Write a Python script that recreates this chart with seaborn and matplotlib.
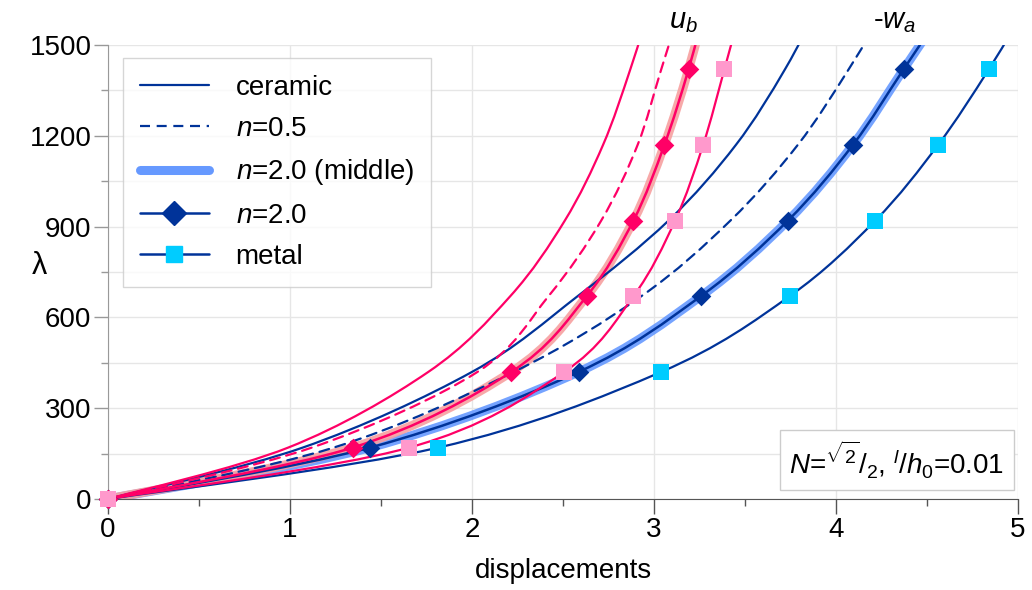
import matplotlib
matplotlib.use("Agg")
import matplotlib.pyplot as plt
from matplotlib.lines import Line2D
from matplotlib.path import Path
from matplotlib.patches import PathPatch
import seaborn as sns

# load levels of the data points (the last one lies above the plot and is clipped)
lam_pts = [0, 170, 420, 670, 920, 1170, 1420, 1670]

# u_b displacements (pink group)
ub_ceramic = [0, 0.99, 1.76, 2.21, 2.51, 2.72, 2.87, 3.00]
ub_n05 = [0, 1.12, 2.03, 2.42, 2.71, 2.91, 3.04, 3.17]
ub_n2 = [0, 1.345, 2.216, 2.63, 2.887, 3.057, 3.19, 3.30]
ub_metal = [0, 1.655, 2.507, 2.887, 3.116, 3.27, 3.387, 3.50]

# -w_a displacements (blue group)
wa_ceramic = [0, 1.07, 2.00, 2.58, 3.08, 3.45, 3.72, 3.94]
wa_n05 = [0, 1.24, 2.23, 2.93, 3.42, 3.79, 4.07, 4.32]
wa_n2 = [0, 1.44, 2.586, 3.257, 3.736, 4.093, 4.372, 4.65]
wa_metal = [0, 1.815, 3.04, 3.745, 4.216, 4.561, 4.84, 5.09]

BLUE = "#003399"
PINK = "#ff0066"
LBLUE = "#6699ff"
LPINK = "#f7a0a0"
SQ_PINK = "#ff99cc"
CYAN = "#00ccff"

sns.set_style("ticks")
plt.rcParams['font.family'] = ['Liberation Sans', 'DejaVu Sans']
plt.rcParams['mathtext.fontset'] = 'custom'
plt.rcParams['mathtext.rm'] = 'Liberation Sans'
plt.rcParams['mathtext.it'] = 'Liberation Sans:italic'
plt.rcParams['text.color'] = 'black'

fig = plt.figure(figsize=(10.32, 5.90), dpi=100)
ax = fig.add_axes([0.1047, 0.1542, 0.8817, 0.7695])


def curve(x, lam, color, lw, dashed=False, z=3, alpha=1.0):
    # smoothed line through the data points (spreadsheet style catmull-rom)
    pts = list(zip(x, lam))
    n = len(pts)
    verts = [pts[0]]
    codes = [Path.MOVETO]
    for i in range(n - 1):
        p0 = pts[max(i - 1, 0)]
        p1 = pts[i]
        p2 = pts[i + 1]
        p3 = pts[min(i + 2, n - 1)]
        c1 = (p1[0] + (p2[0] - p0[0]) / 6, p1[1] + (p2[1] - p0[1]) / 6)
        c2 = (p2[0] - (p3[0] - p1[0]) / 6, p2[1] - (p3[1] - p1[1]) / 6)
        verts += [c1, c2, p2]
        codes += [Path.CURVE4] * 3
    patch = PathPatch(Path(verts, codes), fill=False, edgecolor=color, lw=lw,
                      alpha=alpha, zorder=z, capstyle='round', joinstyle='round')
    if dashed:
        patch.set_linestyle((0, (4.5, 3)))
    ax.add_patch(patch)


def marks(x, lam, marker, color, size, z=6):
    sns.scatterplot(x=x[:7], y=lam[:7], ax=ax, marker=marker, s=size,
                    color=color, linewidth=0, zorder=z, clip_on=False)


# blue group
curve(wa_n2, lam_pts, LBLUE, 6.5, z=2, alpha=0.9)
curve(wa_ceramic, lam_pts, BLUE, 1.6)
curve(wa_n05, lam_pts, BLUE, 1.6, dashed=True)
curve(wa_n2, lam_pts, BLUE, 1.8)
curve(wa_metal, lam_pts, BLUE, 1.6)

# pink group
curve(ub_n2, lam_pts, LPINK, 6.5, z=2, alpha=0.9)
curve(ub_ceramic, lam_pts, PINK, 1.6)
curve(ub_n05, lam_pts, PINK, 1.6, dashed=True)
curve(ub_n2, lam_pts, PINK, 1.8)
curve(ub_metal, lam_pts, PINK, 1.6)

marks(wa_n2, lam_pts, 'D', BLUE, 100)
marks(wa_metal, lam_pts, 's', CYAN, 135)
marks(ub_n2, lam_pts, 'D', PINK, 100)
marks(ub_metal, lam_pts, 's', SQ_PINK, 135)

ax.set_xlim(0, 5)
ax.set_ylim(0, 1500)
ax.set_xticks([0, 1, 2, 3, 4, 5])
ax.set_xticks([0.5, 1.5, 2.5, 3.5, 4.5], minor=True)
ax.set_yticks([0, 300, 600, 900, 1200, 1500])
ax.set_yticks([150, 450, 750, 1050, 1350], minor=True)
ax.grid(axis='y', which='both', color='#e6e6e6', lw=1, zorder=0)
ax.grid(axis='x', which='major', color='#e6e6e6', lw=1, zorder=0)
ax.set_axisbelow(True)

sns.despine(ax=ax)
ax.spines['left'].set_color('#999999')
ax.spines['bottom'].set_color('#555555')
ax.tick_params(axis='x', which='major', length=11, width=1, color='#555555',
               labelsize=20, pad=2, labelcolor='black')
ax.tick_params(axis='x', which='minor', length=5, width=1, color='#555555')
ax.tick_params(axis='y', which='major', length=10, width=1, color='#999999',
               labelsize=20, pad=2, labelcolor='black')
ax.tick_params(axis='y', which='minor', length=5, width=1, color='#999999')

ax.set_xlabel("displacements", fontsize=20, labelpad=11, color='black')
ax.set_ylabel("λ", fontsize=22, rotation=0, color='black')
ax.yaxis.set_label_coords(-0.075, 0.48)

ax.text(3.16, 1578, r"$u_b$", fontsize=21, ha='center', va='center', clip_on=False)
ax.text(4.32, 1578, r"-$w_a$", fontsize=21, ha='center', va='center', clip_on=False)

ax.text(0.867, 0.086, r"$N$=$^{\sqrt{2}}$/$_2$, $^l$/$h_0$=0.01", transform=ax.transAxes,
        fontsize=20, ha='center', va='center', zorder=10,
        bbox=dict(boxstyle='square,pad=0.35', fc='white', ec='#cccccc', lw=1))

handles = [
    Line2D([], [], color=BLUE, lw=1.6),
    Line2D([], [], color=BLUE, lw=1.6, dashes=(4.5, 3)),
    Line2D([], [], color=LBLUE, lw=6.5, solid_capstyle='round'),
    Line2D([], [], color=BLUE, lw=1.8, marker='D', ms=12, markevery=[0, -1]),
    Line2D([], [], color=BLUE, lw=1.8, marker='s', ms=11.5, mfc=CYAN, mec=CYAN, markevery=[0, -1]),
]
labels = ["ceramic", r"$n$=0.5", r"$n$=2.0 (middle)", r"$n$=2.0", "metal"]
leg = ax.legend(handles, labels, loc='upper left', bbox_to_anchor=(0.0165, 0.971),
                borderaxespad=0, fontsize=20, frameon=True, fancybox=False,
                handlelength=2.5, handletextpad=0.95, labelspacing=0.55, borderpad=0.6)
leg.get_frame().set_edgecolor('#cccccc')
leg.get_frame().set_linewidth(1)
leg.set_zorder(10)

fig.savefig("out.png", dpi=100, facecolor='white')
